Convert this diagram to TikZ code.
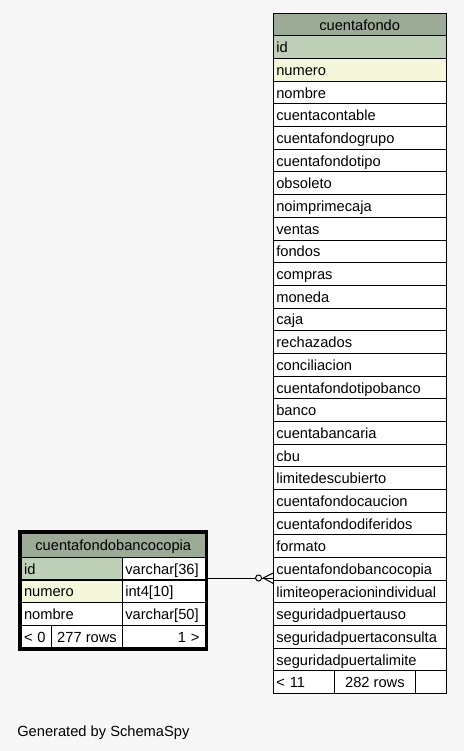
\documentclass[tikz,border=0pt]{standalone}
\usepackage{fontspec}
\setmainfont{Liberation Sans}
\definecolor{hdr}{HTML}{9BAB96}
\definecolor{pk}{HTML}{BED1B8}
\definecolor{idx}{HTML}{F4F7DA}
\definecolor{canvas}{HTML}{F7F7F7}
\begin{document}
\begin{tikzpicture}[x=1pt,y=-1pt,
  every node/.style={font=\fontsize{14.67}{17}\selectfont, inner sep=0pt, outer sep=0pt, text height=13pt, text depth=1.7pt},
  cell/.style={draw=black, line width=1pt, anchor=north west, minimum height=22.67pt, fill=white},
  conn/.style={draw=black, line width=1pt}]
\fill[canvas] (0,0) rectangle (464,751);
\useasboundingbox (0,0) rectangle (464,751);

% big table
\node[cell, fill=hdr, minimum width=172.7pt] (cfh) at (273.3,13.3) {cuentafondo};
\foreach \n [count=\i] in {id,numero,nombre,cuentacontable,cuentafondogrupo,cuentafondotipo,obsoleto,noimprimecaja,ventas,fondos,compras,moneda,caja,rechazados,conciliacion,cuentafondotipobanco,banco,cuentabancaria,cbu,limitedescubierto,cuentafondocaucion,cuentafondodiferidos,formato,cuentafondobancocopia,limiteoperacionindividual,seguridadpuertauso,seguridadpuertaconsulta,seguridadpuertalimite}{
  \pgfmathsetmacro\yy{13.3+\i*22.67}
  \ifnum\i=1 \def\fc{pk}\else\ifnum\i=2 \def\fc{idx}\else\def\fc{white}\fi\fi
  \node[cell, fill=\fc, text width=166.7pt, align=left, inner xsep=3pt] (cf-\n) at (273.3,\yy) {\n};
}
\node[cell, text width=54.7pt, align=left, inner xsep=3pt] (cff1) at (273.3,670.73) {< 11};
\node[cell, minimum width=81.7pt] (cff2) at (334,670.73) {282 rows};
\node[cell, minimum width=30.3pt] (cff3) at (415.7,670.73) {};

% small table
\node[cell, fill=hdr, minimum width=184.5pt, minimum height=24.3pt] (sh) at (21,533) {cuentafondobancocopia};
\node[cell, fill=pk, text width=95.3pt, align=left, inner xsep=3pt] (sid) at (21,557.3) {id};
\node[cell, text width=77.2pt, align=left, inner xsep=3pt] (sidt) at (122.3,557.3) {varchar[36]};
\node[cell, fill=idx, text width=95.3pt, align=left, inner xsep=3pt] (snum) at (21,580) {numero};
\node[cell, text width=77.2pt, align=left, inner xsep=3pt] (snumt) at (122.3,580) {int4[10]};
\node[cell, text width=95.3pt, align=left, inner xsep=3pt] (snom) at (21,602.6) {nombre};
\node[cell, text width=77.2pt, align=left, inner xsep=3pt] (snomt) at (122.3,602.6) {varchar[50]};
\node[cell, text width=24.7pt, align=left, inner xsep=3pt] (sf1) at (21,625.3) {< 0};
\node[cell, minimum width=70.6pt] (sf2) at (51.7,625.3) {277 rows};
\node[cell, text width=71.2pt, align=right, inner xsep=6pt] (sf3) at (122.3,625.3) {1 >};
\node[draw=black, line width=2.7pt, anchor=north west, minimum width=187.3pt, minimum height=118pt, text height=0pt, text depth=0pt] (st) at (19.65,531.35) {};

% connector
\coordinate (yl) at (0,578);
\coordinate (ya) at (0,573);
\coordinate (yb) at (0,583.5);
\coordinate (fk) at (263.3,578);
\draw[conn] (st.east |- yl) -- (cf-cuentafondobancocopia.west |- yl);
\draw[conn] (fk) -- (cf-cuentafondobancocopia.west |- ya);
\draw[conn] (fk) -- (cf-cuentafondobancocopia.west |- yb);
\node[circle, draw=black, line width=1pt, fill=canvas, minimum size=6pt, text height=0pt, text depth=0pt] (odot) at (258.6,578) {};

\node[anchor=base west] (gen) at (17.3,736.5) {Generated by SchemaSpy};
\end{tikzpicture}
\end{document}
